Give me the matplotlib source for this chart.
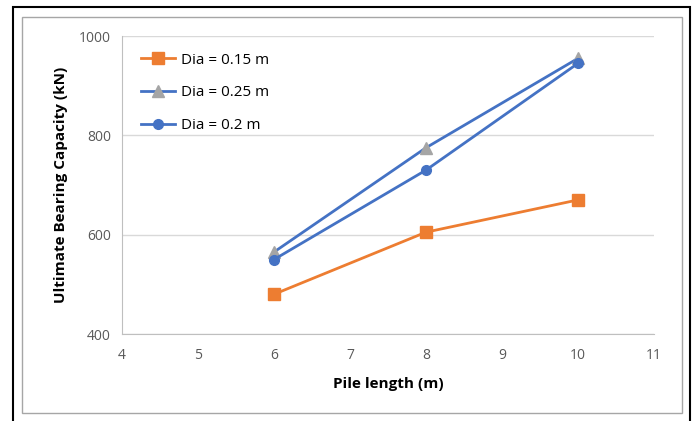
import matplotlib
matplotlib.use("Agg")
import matplotlib.pyplot as plt
from matplotlib.patches import Rectangle

# pile length vs ultimate bearing capacity for three pile diameters
pile_length = [6, 8, 10]
cap_d015 = [480, 605, 670]
cap_d025 = [565, 775, 955]
cap_d020 = [550, 730, 945]

plt.rcParams['font.family'] = ['Open Sans', 'DejaVu Sans']

fig = plt.figure(figsize=(6.96, 4.21), dpi=100)
ax = fig.add_axes([122 / 696, 87 / 421, 532 / 696, 298 / 421])

# frames around the chart
fig.patches.append(Rectangle((13 / 696, -0.02), 677 / 696, (414 / 421) + 0.02,
                             transform=fig.transFigure, fill=False,
                             edgecolor='black', linewidth=1.5))
fig.patches.append(Rectangle((22 / 696, 8 / 421), 660 / 696, 396 / 421,
                             transform=fig.transFigure, fill=False,
                             edgecolor='#a6a6a6', linewidth=1.0))

ax.plot(pile_length, cap_d015, color='#ED7D31', lw=2, marker='s', ms=8,
        label='Dia = 0.15 m')
ax.plot(pile_length, cap_d025, color='#4472C4', lw=2, marker='^', ms=8,
        mfc='#A5A5A5', mec='#A5A5A5', label='Dia = 0.25 m')
ax.plot(pile_length, cap_d020, color='#4472C4', lw=2, marker='o', ms=7,
        label='Dia = 0.2 m')

ax.set_xlim(4, 11)
ax.set_ylim(400, 1000)
ax.set_xticks(range(4, 12))
ax.set_yticks([400, 600, 800, 1000])
ax.grid(axis='y', color='#d9d9d9', lw=1)
ax.set_axisbelow(True)
for s in ['top', 'right']:
    ax.spines[s].set_visible(False)
for s in ['left', 'bottom']:
    ax.spines[s].set_color('#bfbfbf')
ax.tick_params(length=0, labelsize=10, colors='#595959', pad=8)
ax.tick_params(axis='x', pad=10)

ax.set_xlabel('Pile length (m)', fontsize=11, fontweight='bold', labelpad=10)
ax.set_ylabel('Ultimate Bearing Capacity (kN)', fontsize=11, fontweight='bold',
              labelpad=8)

ax.legend(loc='upper left', frameon=False, fontsize=11, handlelength=2.2,
          handletextpad=0.4, labelspacing=1.15, bbox_to_anchor=(0.01, 0.99))

fig.savefig('out.png', dpi=100)
